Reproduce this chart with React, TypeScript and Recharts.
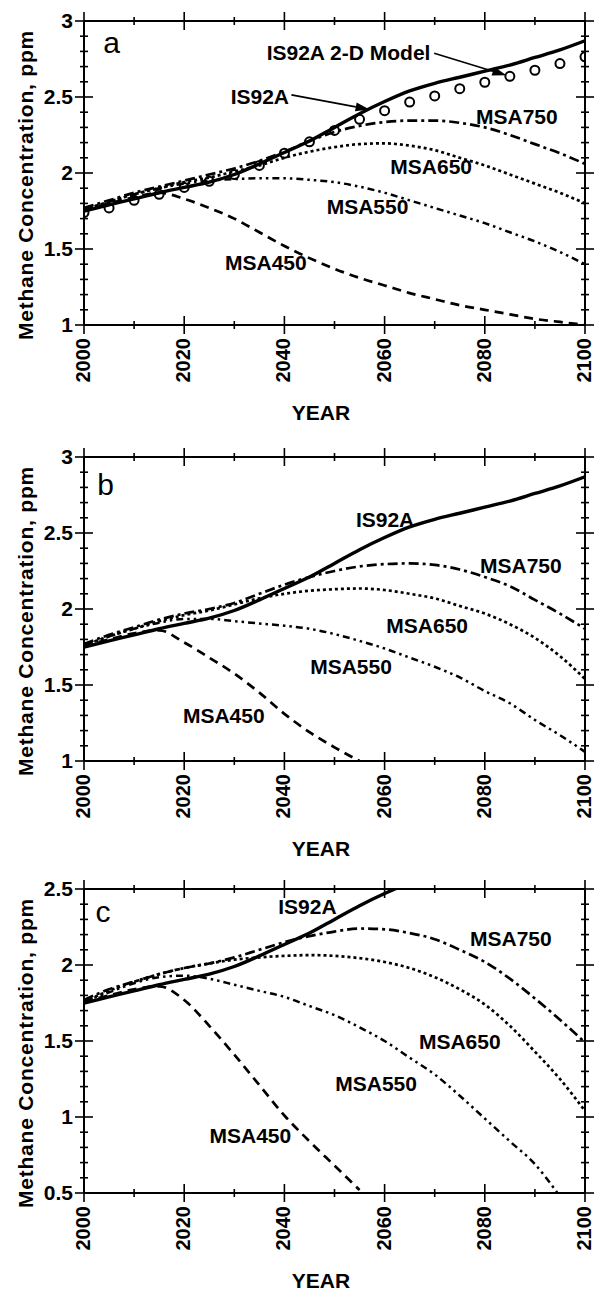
import React from 'react';
import { LineChart, Line, XAxis, YAxis, ReferenceDot, ReferenceLine, Label } from 'recharts';

const FONT = '"Liberation Sans", Arial, Helvetica, sans-serif';

// years every 5 from 2000 to 2100
const YEARS = [2000, 2005, 2010, 2015, 2020, 2025, 2030, 2035, 2040, 2045, 2050,
  2055, 2060, 2065, 2070, 2075, 2080, 2085, 2090, 2095, 2100];

// IS92A reference scenario (same in all panels)
const IS92A = [1.75, 1.79, 1.83, 1.87, 1.905, 1.94, 1.99, 2.06, 2.135, 2.21, 2.30,
  2.39, 2.47, 2.54, 2.59, 2.63, 2.67, 2.71, 2.76, 2.81, 2.87];
// IS92A from the 2-D model (circles, panel a)
const MODEL_2D = [1.74, 1.77, 1.82, 1.86, 1.905, 1.945, 1.99, 2.05, 2.13, 2.205, 2.28,
  2.353, 2.41, 2.467, 2.507, 2.555, 2.597, 2.636, 2.676, 2.72, 2.764];

// panel a
const A_MSA750 = [1.77, 1.82, 1.87, 1.91, 1.95, 1.99, 2.03, 2.08, 2.14, 2.21, 2.27,
  2.31, 2.335, 2.345, 2.345, 2.33, 2.30, 2.25, 2.19, 2.13, 2.06];
const A_MSA650 = [1.76, 1.81, 1.86, 1.90, 1.94, 1.97, 2.01, 2.05, 2.10, 2.14, 2.17,
  2.19, 2.195, 2.18, 2.15, 2.10, 2.05, 1.99, 1.93, 1.87, 1.80];
const A_MSA550 = [1.76, 1.81, 1.86, 1.90, 1.93, 1.95, 1.96, 1.965, 1.965, 1.955, 1.94,
  1.91, 1.87, 1.82, 1.77, 1.72, 1.67, 1.61, 1.55, 1.48, 1.40];
const A_MSA450 = [1.76, 1.80, 1.84, 1.87, 1.83, 1.77, 1.70, 1.61, 1.52, 1.44, 1.37,
  1.31, 1.26, 1.21, 1.17, 1.13, 1.10, 1.07, 1.04, 1.02, 1.0];

// panel b
const B_MSA750 = [1.77, 1.83, 1.88, 1.93, 1.97, 2.00, 2.04, 2.10, 2.16, 2.21, 2.25,
  2.28, 2.295, 2.30, 2.29, 2.26, 2.21, 2.15, 2.06, 1.97, 1.87];
const B_MSA650 = [1.76, 1.82, 1.87, 1.92, 1.96, 1.99, 2.03, 2.07, 2.10, 2.12, 2.13,
  2.135, 2.125, 2.10, 2.07, 2.02, 1.97, 1.90, 1.81, 1.69, 1.54];
const B_MSA550 = [1.76, 1.82, 1.87, 1.91, 1.935, 1.935, 1.92, 1.905, 1.89, 1.87, 1.835,
  1.79, 1.74, 1.68, 1.62, 1.55, 1.46, 1.38, 1.27, 1.17, 1.06];
const B_MSA450_YEARS = [2000, 2005, 2010, 2015, 2020, 2025, 2030, 2035, 2040, 2045, 2050, 2055];
const B_MSA450 = [1.76, 1.80, 1.84, 1.86, 1.78, 1.68, 1.575, 1.45, 1.31, 1.19, 1.09, 1.0];

// panel c
const C_MSA750 = [1.77, 1.84, 1.89, 1.94, 1.98, 2.01, 2.05, 2.10, 2.15, 2.19, 2.22,
  2.24, 2.235, 2.21, 2.17, 2.10, 2.02, 1.91, 1.78, 1.64, 1.49];
const C_MSA650 = [1.76, 1.83, 1.89, 1.94, 1.98, 2.01, 2.035, 2.05, 2.06, 2.065, 2.06,
  2.045, 2.02, 1.98, 1.92, 1.84, 1.74, 1.60, 1.43, 1.25, 1.04];
const C_MSA550_YEARS = [2000, 2005, 2010, 2015, 2020, 2025, 2030, 2035, 2040, 2045, 2050,
  2055, 2060, 2065, 2070, 2075, 2080, 2085, 2090, 2094.5];
const C_MSA550 = [1.76, 1.82, 1.88, 1.92, 1.93, 1.91, 1.87, 1.83, 1.79, 1.73, 1.67,
  1.59, 1.50, 1.39, 1.28, 1.14, 0.99, 0.84, 0.69, 0.5];
const C_MSA450_YEARS = [2000, 2005, 2010, 2015, 2020, 2025, 2030, 2035, 2040, 2045, 2050, 2055];
const C_MSA450 = [1.76, 1.80, 1.84, 1.86, 1.77, 1.60, 1.41, 1.21, 1.01, 0.84, 0.68, 0.52];

// axis ticks
const X_TICKS = [2000, 2010, 2020, 2030, 2040, 2050, 2060, 2070, 2080, 2090, 2100];
const Y_LABELS_AB = [1, 1.5, 2, 2.5, 3];
const Y_LABELS_C = [0.5, 1, 1.5, 2, 2.5];

const minorTicks = (labels: number[]) => {
  const out: number[] = [];
  const lo = Math.round(labels[0] * 10);
  const hi = Math.round(labels[labels.length - 1] * 10);
  for (let i = lo; i <= hi; i++) out.push(i / 10);
  return out;
};

const pts = (years: number[], vals: number[]) => years.map((year, i) => ({ year, v: vals[i] }));

// text annotations, in data coordinates
const A_NOTES = [
  { t: 'a', x: 2005.5, y: 2.857, big: true },
  { t: 'IS92A 2-D Model', x: 2052.8, y: 2.79 },
  { t: 'IS92A', x: 2035.1, y: 2.5 },
  { t: 'MSA750', x: 2086.4, y: 2.373 },
  { t: 'MSA650', x: 2069.3, y: 2.04 },
  { t: 'MSA550', x: 2056.6, y: 1.78 },
  { t: 'MSA450', x: 2036.3, y: 1.41 },
];
const A_ARROWS = [
  [{ x: 2041.4, y: 2.514 }, { x: 2057, y: 2.418 }],
  [{ x: 2069.9, y: 2.788 }, { x: 2084.3, y: 2.643 }],
];
const B_NOTES = [
  { t: 'b', x: 2004.3, y: 2.818, big: true },
  { t: 'IS92A', x: 2060.1, y: 2.588 },
  { t: 'MSA750', x: 2087.2, y: 2.287 },
  { t: 'MSA650', x: 2068.5, y: 1.893 },
  { t: 'MSA550', x: 2053.3, y: 1.618 },
  { t: 'MSA450', x: 2027.9, y: 1.30 },
];
const C_NOTES = [
  { t: 'c', x: 2003.8, y: 2.35, big: true },
  { t: 'IS92A', x: 2044.6, y: 2.386 },
  { t: 'MSA750', x: 2085.2, y: 2.171 },
  { t: 'MSA650', x: 2075, y: 1.498 },
  { t: 'MSA550', x: 2058.3, y: 1.219 },
  { t: 'MSA450', x: 2033.2, y: 0.877 },
];

const STYLES: Record<string, { dash?: string; w: number }> = {
  IS92A: { w: 3.4 },
  MSA750: { dash: '10 4 3 4', w: 2.7 },
  MSA650: { dash: '3 3', w: 2.7 },
  MSA550: { dash: '7 4 2.5 4 2.5 4', w: 2.5 },
  MSA450: { dash: '9 6', w: 2.7 },
};

const isMajorY = (v: number) => Math.abs(v * 2 - Math.round(v * 2)) < 1e-6;
const fmtY = (v: number) => String(Number(v.toFixed(1)));

const makeTick = (side: 'left' | 'right' | 'top' | 'bottom') => (props: any) => {
  const { x, y, payload } = props;
  const v = payload.value as number;
  const horiz = side === 'top' || side === 'bottom';
  const major = horiz ? v % 20 === 0 : isMajorY(v);
  const len = major ? 9 : 4;
  return (
    <g>
      {horiz ? (
        <line x1={x} y1={y - len} x2={x} y2={y + len} stroke="#000" strokeWidth={1.6} />
      ) : (
        <line x1={x - len} y1={y} x2={x + len} y2={y} stroke="#000" strokeWidth={1.6} />
      )}
      {major && side === 'left' && (
        <text x={x - 11} y={y} dy="0.35em" textAnchor="end" fontFamily={FONT}
          fontSize={21} fontWeight="bold" fill="#000">{fmtY(v)}</text>
      )}
      {major && side === 'bottom' && (
        <g transform={`translate(${x},${y + 13}) rotate(-90)`}>
          <text x={0} y={0} dy="0.3em" textAnchor="end" fontFamily={FONT}
            fontSize={20} fontWeight="bold" fill="#000">{v}</text>
        </g>
      )}
    </g>
  );
};

const noteContent = (text: string, big?: boolean) => (p: any) => {
  const vb = p.viewBox || {};
  return (
    <text x={vb.x + (vb.width || 0) / 2} y={vb.y + (vb.height || 0) / 2} dy="0.35em"
      textAnchor="middle" fontFamily={FONT} fontSize={big ? 30 : 21}
      fontWeight={big ? 'normal' : 'bold'} fill="#000">{text}</text>
  );
};

const Arrow = (p: any) => {
  const { x1, y1, x2, y2 } = p;
  const ang = Math.atan2(y2 - y1, x2 - x1);
  const len = 14;
  const w = 4.5;
  const bx = x2 - len * Math.cos(ang);
  const by = y2 - len * Math.sin(ang);
  const px = -Math.sin(ang) * w;
  const py = Math.cos(ang) * w;
  return (
    <g>
      <line x1={x1} y1={y1} x2={bx} y2={by} stroke="#000" strokeWidth={1.6} />
      <polygon points={`${x2},${y2} ${bx + px},${by + py} ${bx - px},${by - py}`} fill="#000" />
    </g>
  );
};

const W = 596;
const H = 428;
const TOP = 21;
const PLOT_H = 304;

type Series = { name: string; years: number[]; vals: number[] };

interface PanelProps {
  series: Series[];
  yLabels: number[];
  notes: { t: string; x: number; y: number; big?: boolean }[];
  arrows?: { x: number; y: number }[][];
  model?: boolean;
}

const Panel: React.FC<PanelProps> = ({ series, yLabels, notes, arrows = [], model }) => {
  const yTicks = minorTicks(yLabels);
  const yDomain: [number, number] = [yLabels[0], yLabels[yLabels.length - 1]];
  const axisLine = { stroke: '#000', strokeWidth: 2 };
  return (
    <LineChart width={W} height={H} margin={{ top: TOP - 1, right: 10, bottom: 0, left: 0 }}>
      <XAxis dataKey="year" type="number" domain={[2000, 2100]} ticks={X_TICKS} interval={0}
        allowDataOverflow height={H - TOP - PLOT_H} tickLine={false} tickSize={0} tickMargin={0}
        axisLine={axisLine} tick={makeTick('bottom')}>
        <Label content={(p: any) => (
          <text x={p.viewBox.x + 237} y={p.viewBox.y + 88} dy="0.35em" textAnchor="middle"
            fontFamily={FONT} fontSize={21} fontWeight="bold" fill="#000">YEAR</text>
        )} />
      </XAxis>
      <XAxis xAxisId="top" orientation="top" dataKey="year" type="number" domain={[2000, 2100]}
        ticks={X_TICKS} interval={0} allowDataOverflow height={1} tickLine={false} tickSize={0}
        tickMargin={0} axisLine={axisLine} tick={makeTick('top')} />
      <YAxis type="number" domain={yDomain} ticks={yTicks} interval={0} allowDataOverflow
        width={84} tickLine={false} tickSize={0} tickMargin={0} axisLine={axisLine}
        tick={makeTick('left')}>
        <Label content={(p: any) => (
          <g transform={`translate(25.5,${p.viewBox.y + p.viewBox.height / 2 + 12}) rotate(-90)`}>
            <text x={0} y={0} dy="0.35em" textAnchor="middle" fontFamily={FONT} fontSize={21}
              fontWeight="bold" letterSpacing={0.8} fill="#000">Methane Concentration, ppm</text>
          </g>
        )} />
      </YAxis>
      <YAxis yAxisId="right" orientation="right" type="number" domain={yDomain} ticks={yTicks}
        interval={0} allowDataOverflow width={1} tickLine={false} tickSize={0} tickMargin={0}
        axisLine={axisLine} tick={makeTick('right')} />
      {/* invisible copy so the frame axes (top / right) have a series bound to them */}
      <Line xAxisId="top" yAxisId="right" data={pts(YEARS, IS92A)} dataKey="v" stroke="none"
        dot={false} activeDot={false} isAnimationActive={false} />
      {series.map((s) => (
        <Line key={s.name + s.years.length} data={pts(s.years, s.vals)} dataKey="v" type="monotone"
          stroke="#000" strokeWidth={STYLES[s.name].w} strokeDasharray={STYLES[s.name].dash}
          dot={false} activeDot={false} isAnimationActive={false} />
      ))}
      {model && (
        <Line data={pts(YEARS, MODEL_2D)} dataKey="v" stroke="none"
          dot={{ r: 4.5, stroke: '#000', strokeWidth: 2, fill: 'none' }} activeDot={false}
          isAnimationActive={false} />
      )}
      {arrows.map((seg, i) => (
        <ReferenceLine key={'ar' + i} segment={seg} shape={Arrow} />
      ))}
      {notes.map((n) => (
        <ReferenceDot key={n.t + n.x} x={n.x} y={n.y} r={0} fill="none" stroke="none"
          label={{ content: noteContent(n.t, n.big) }} />
      ))}
    </LineChart>
  );
};

export default function App() {
  return (
    <div style={{ position: 'absolute', left: 0, top: 0, width: W, height: 1296, background: '#fff' }}>
      <div style={{ position: 'absolute', left: 0, top: 0 }}>
        <Panel yLabels={Y_LABELS_AB} model notes={A_NOTES} arrows={A_ARROWS} series={[
          { name: 'MSA450', years: YEARS, vals: A_MSA450 },
          { name: 'MSA550', years: YEARS, vals: A_MSA550 },
          { name: 'MSA650', years: YEARS, vals: A_MSA650 },
          { name: 'MSA750', years: YEARS, vals: A_MSA750 },
          { name: 'IS92A', years: YEARS, vals: IS92A },
        ]} />
      </div>
      <div style={{ position: 'absolute', left: 0, top: 436 }}>
        <Panel yLabels={Y_LABELS_AB} notes={B_NOTES} series={[
          { name: 'MSA450', years: B_MSA450_YEARS, vals: B_MSA450 },
          { name: 'MSA550', years: YEARS, vals: B_MSA550 },
          { name: 'MSA650', years: YEARS, vals: B_MSA650 },
          { name: 'MSA750', years: YEARS, vals: B_MSA750 },
          { name: 'IS92A', years: YEARS, vals: IS92A },
        ]} />
      </div>
      <div style={{ position: 'absolute', left: 0, top: 868 }}>
        <Panel yLabels={Y_LABELS_C} notes={C_NOTES} series={[
          { name: 'MSA450', years: C_MSA450_YEARS, vals: C_MSA450 },
          { name: 'MSA550', years: C_MSA550_YEARS, vals: C_MSA550 },
          { name: 'MSA650', years: YEARS, vals: C_MSA650 },
          { name: 'MSA750', years: YEARS, vals: C_MSA750 },
          { name: 'IS92A', years: YEARS, vals: IS92A },
        ]} />
      </div>
    </div>
  );
}
